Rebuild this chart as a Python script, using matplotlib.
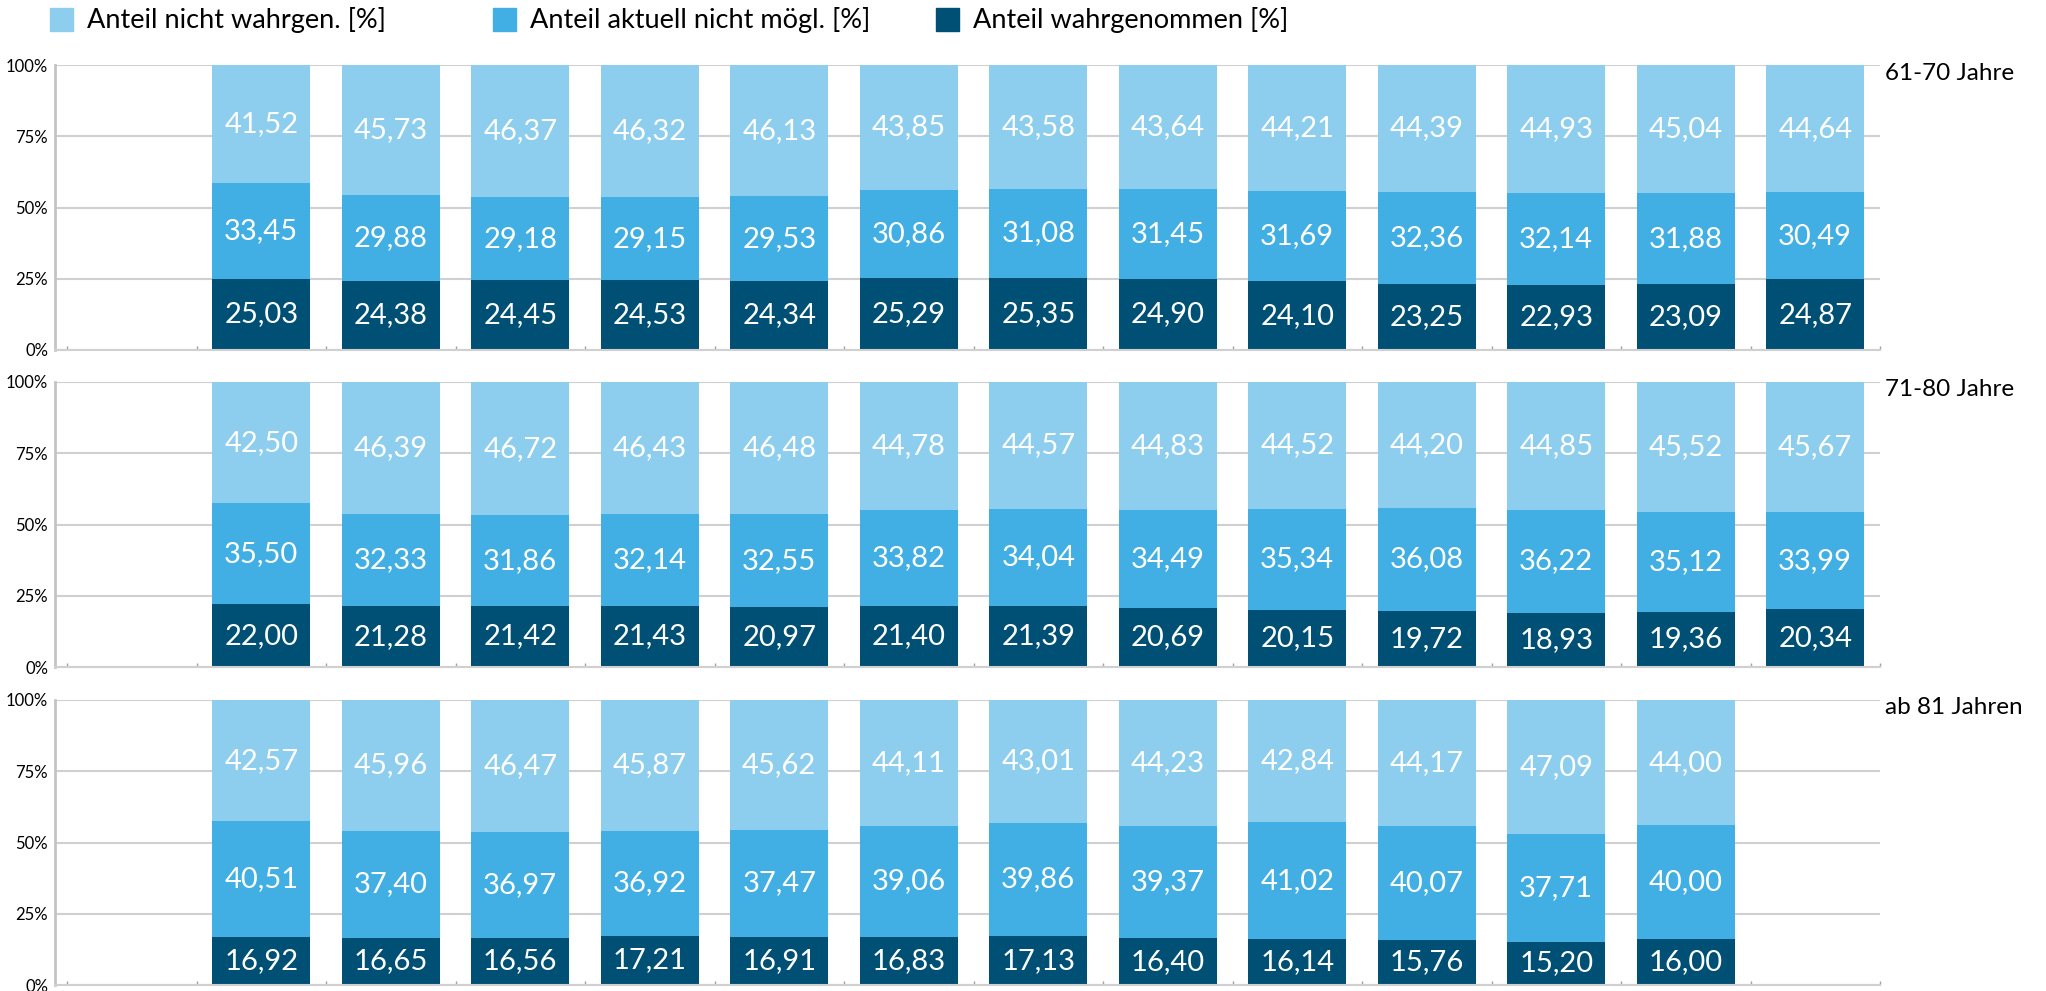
import numpy as np
import matplotlib
matplotlib.use("Agg")
import matplotlib.pyplot as plt
from matplotlib.patches import Rectangle

plt.rcParams['font.family'] = ['Lato', 'DejaVu Sans']

# series names and colours (bottom to top in each stack)
series = ['Anteil nicht wahrgen. [%]', 'Anteil aktuell nicht mögl. [%]', 'Anteil wahrgenommen [%]']
colors = ['#8DCEEF', '#41AFE4', '#005075']

groups = ['61-70 Jahre', '71-80 Jahre', 'ab 81 Jahren']

# 61-70 Jahre
wahr_61 = [25.03, 24.38, 24.45, 24.53, 24.34, 25.29, 25.35, 24.90, 24.10, 23.25, 22.93, 23.09, 24.87]
nm_61 = [33.45, 29.88, 29.18, 29.15, 29.53, 30.86, 31.08, 31.45, 31.69, 32.36, 32.14, 31.88, 30.49]
nw_61 = [41.52, 45.73, 46.37, 46.32, 46.13, 43.85, 43.58, 43.64, 44.21, 44.39, 44.93, 45.04, 44.64]

# 71-80 Jahre
wahr_71 = [22.00, 21.28, 21.42, 21.43, 20.97, 21.40, 21.39, 20.69, 20.15, 19.72, 18.93, 19.36, 20.34]
nm_71 = [35.50, 32.33, 31.86, 32.14, 32.55, 33.82, 34.04, 34.49, 35.34, 36.08, 36.22, 35.12, 33.99]
nw_71 = [42.50, 46.39, 46.72, 46.43, 46.48, 44.78, 44.57, 44.83, 44.52, 44.20, 44.85, 45.52, 45.67]

# ab 81 Jahren
wahr_81 = [16.92, 16.65, 16.56, 17.21, 16.91, 16.83, 17.13, 16.40, 16.14, 15.76, 15.20, 16.00]
nm_81 = [40.51, 37.40, 36.97, 36.92, 37.47, 39.06, 39.86, 39.37, 41.02, 40.07, 37.71, 40.00]
nw_81 = [42.57, 45.96, 46.47, 45.87, 45.62, 44.11, 43.01, 44.23, 42.84, 44.17, 47.09, 44.00]

panels = [(wahr_61, nm_61, nw_61), (wahr_71, nm_71, nw_71), (wahr_81, nm_81, nw_81)]
yticks = [0, 25, 50, 75, 100]

W, H = 2046, 991
fig = plt.figure(figsize=(W / 100, H / 100), dpi=100)

left, right = 55, 1880
tops = [65, 382, 700]
ph = 285
grid_c = '#D0D0D0'

for i, (wahr, nm, nw) in enumerate(panels):
    ax = fig.add_axes([left / W, (H - tops[i] - ph) / H, (right - left) / W, ph / H])
    x = np.arange(1, len(wahr) + 1)
    wahr = np.array(wahr)
    nm = np.array(nm)
    nw = np.array(nw)
    # stacks: wahrgenommen at the bottom, then nicht möglich, then nicht wahrgenommen
    stack = [(wahr, colors[2], 0), (nm, colors[1], wahr), (nw, colors[0], wahr + nm)]
    for vals, c, base in stack:
        ax.bar(x, vals, bottom=base, width=0.755, color=c, zorder=2)
        for xi, v, b in zip(x, vals, np.broadcast_to(base, vals.shape)):
            ax.text(xi, b + v / 2, f'{v:.2f}'.replace('.', ','), ha='center', va='center',
                    color='white', fontsize=21, zorder=3)
    ax.set_xlim(-0.593, 13.5)
    ax.set_ylim(0, 100)
    ax.set_yticks(yticks)
    ax.set_yticklabels([f'{t}%' for t in yticks], fontsize=12)
    ax.tick_params(axis='y', length=0, pad=5)
    ax.set_xticks(np.arange(-0.5, 14, 1))
    ax.set_xticklabels([])
    ax.tick_params(axis='x', length=3, color='#A0A0A0', direction='in', width=1)
    ax.grid(axis='y', color=grid_c, linewidth=1.5, zorder=0)
    for s in ['top', 'right']:
        ax.spines[s].set_visible(False)
    ax.spines['left'].set_color('#C4C4C4')
    ax.spines['left'].set_linewidth(2)
    ax.spines['bottom'].set_color(grid_c)
    ax.spines['bottom'].set_linewidth(1.5)
    ax.text(1 + 5 / (right - left), 1 - 8 / ph, groups[i], transform=ax.transAxes,
            ha='left', va='center', fontsize=17.5, color='black')

# legend drawn by hand across the top
sq_x = [50, 493, 936]
for name, c, sx in zip(series, colors, sq_x):
    fig.patches.append(Rectangle((sx / W, (H - 31) / H), 23 / W, 23 / H,
                                 transform=fig.transFigure, color=c))
    fig.text((sx + 37) / W, (H - 20) / H, name, ha='left', va='center', fontsize=19.5)

fig.savefig('out.png', dpi=100)
